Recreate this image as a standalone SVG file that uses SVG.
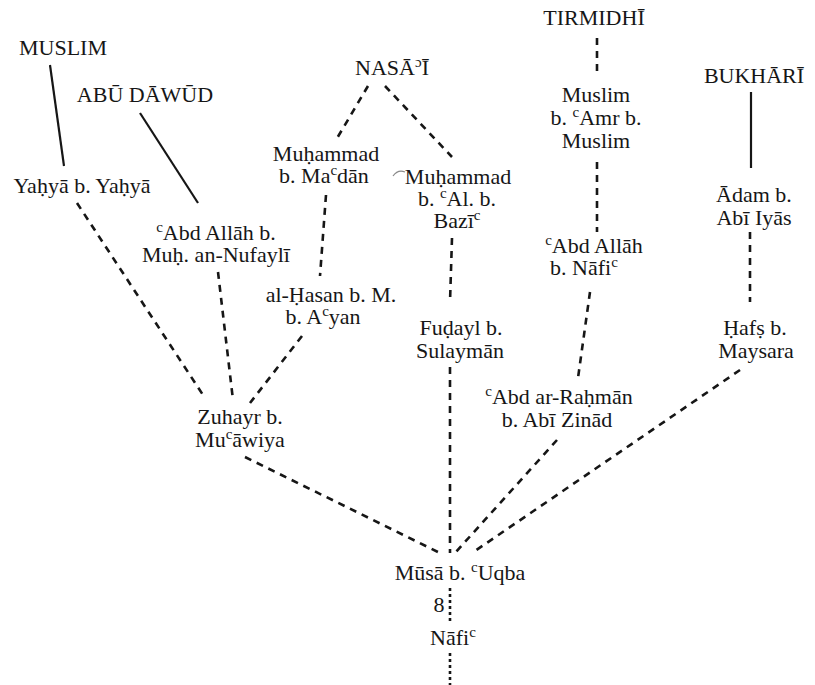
<svg xmlns="http://www.w3.org/2000/svg" width="815" height="685" viewBox="0 0 815 685">
  <style>
    .t { font-family: "Liberation Serif", "DejaVu Serif", serif; font-size: 22px; fill: #161616; text-anchor: middle; }
    .sup { font-size: 15px; }
    .solid { stroke: #161616; stroke-width: 2.2; fill: none; }
    .dash { stroke: #161616; stroke-width: 2.6; fill: none; stroke-dasharray: 7 6; }
    .dot { stroke: #161616; stroke-width: 2.6; fill: none; stroke-dasharray: 3 3; }
  </style>
  <rect width="815" height="685" fill="#ffffff"/>

  <!-- connectors -->
  <g id="connectors">
    <line class="solid" x1="50" y1="65" x2="64" y2="166"/>
    <line class="solid" x1="140" y1="113" x2="198" y2="203"/>
    <line class="solid" x1="751" y1="92" x2="751" y2="168"/>

    <line class="dash" x1="368" y1="86" x2="336" y2="140"/>
    <line class="dash" x1="385" y1="86" x2="452" y2="157"/>
    <line class="dash" x1="326" y1="195" x2="320" y2="276"/>
    <line class="dash" x1="452" y1="238" x2="450" y2="302"/>
    <line class="dash" x1="450" y1="367" x2="450" y2="553"/>
    <line class="dash" x1="597" y1="38" x2="597" y2="74"/>
    <line class="dash" x1="597" y1="162" x2="597" y2="232"/>
    <line class="dash" x1="590" y1="292" x2="578" y2="378"/>
    <line class="dash" x1="557" y1="440" x2="455" y2="553"/>
    <line class="dash" x1="750" y1="232" x2="750" y2="302"/>
    <line class="dash" x1="740" y1="370" x2="472" y2="553"/>
    <line class="dash" x1="77" y1="203" x2="205" y2="398"/>
    <line class="dash" x1="218" y1="272" x2="233" y2="400"/>
    <line class="dash" x1="302" y1="336" x2="250" y2="403"/>
    <line class="dash" x1="245" y1="457" x2="440" y2="553"/>

    <line class="dot" x1="450" y1="588" x2="450" y2="621"/>
    <line class="dot" x1="450" y1="653" x2="450" y2="685"/>
  </g>

  <!-- small stray pen stroke beside Muhammad b. Al. -->
  <path d="M393,176 q5,-7 12,-4" stroke="#888" stroke-width="1.2" fill="none"/>

  <!-- collectors -->
  <g id="muslim"><text class="t" x="63" y="55">MUSLIM</text></g>
  <g id="abu-dawud"><text class="t" x="145" y="102">ABŪ DĀWŪD</text></g>
  <g id="nasai"><text class="t" x="392" y="75">NASĀ<tspan class="sup" dy="-8">ɔ</tspan><tspan dy="8">Ī</tspan></text></g>
  <g id="tirmidhi"><text class="t" x="594" y="25">TIRMIDHĪ</text></g>
  <g id="bukhari"><text class="t" x="754" y="83">BUKHĀRĪ</text></g>

  <!-- transmitters -->
  <g id="yahya"><text class="t" x="82" y="193">Yaḥyā b. Yaḥyā</text></g>
  <g id="nufayli"><text class="t" x="216" y="240"><tspan class="sup" dy="-8">c</tspan><tspan dy="8">Abd Allāh b.</tspan><tspan x="216" y="262">Muḥ. an-Nufaylī</tspan></text></g>
  <g id="madan"><text class="t" x="326" y="161">Muḥammad<tspan x="324" y="183">b. Ma<tspan class="sup" dy="-8">c</tspan><tspan dy="8">dān</tspan></tspan></text></g>
  <g id="bazi"><text class="t" x="458" y="184">Muḥammad<tspan x="457" y="206">b. <tspan class="sup" dy="-8">c</tspan><tspan dy="8">Al. b.</tspan></tspan><tspan x="457" y="228">Bazī<tspan class="sup" dy="-8">c</tspan></tspan></text></g>
  <g id="muslim-amr"><text class="t" x="596" y="102">Muslim<tspan x="596" y="125">b. <tspan class="sup" dy="-8">c</tspan><tspan dy="8">Amr b.</tspan></tspan><tspan x="596" y="148">Muslim</tspan></text></g>
  <g id="adam"><text class="t" x="754" y="202">Ādam b.<tspan x="754" y="225">Abī Iyās</tspan></text></g>
  <g id="abdallah-nafi"><text class="t" x="594" y="253"><tspan class="sup" dy="-8">c</tspan><tspan dy="8">Abd Allāh</tspan><tspan x="584" y="275">b. Nāfi<tspan class="sup" dy="-8">c</tspan></tspan></text></g>
  <g id="hasan"><text class="t" x="331" y="302">al-Ḥasan b. M.<tspan x="323" y="324">b. A<tspan class="sup" dy="-8">c</tspan><tspan dy="8">yan</tspan></tspan></text></g>
  <g id="fudayl"><text class="t" x="461" y="335">Fuḍayl b.<tspan x="460" y="358">Sulaymān</tspan></text></g>
  <g id="hafs"><text class="t" x="755" y="335">Ḥafṣ b.<tspan x="756" y="358">Maysara</tspan></text></g>
  <g id="abd-rahman"><text class="t" x="559" y="404"><tspan class="sup" dy="-8">c</tspan><tspan dy="8">Abd ar-Raḥmān</tspan><tspan x="557" y="427">b. Abī Zinād</tspan></text></g>
  <g id="zuhayr"><text class="t" x="240" y="424">Zuhayr b.<tspan x="240" y="447">Mu<tspan class="sup" dy="-8">c</tspan><tspan dy="8">āwiya</tspan></tspan></text></g>
  <g id="musa"><text class="t" x="460" y="580">Mūsā b. <tspan class="sup" dy="-8">c</tspan><tspan dy="8">Uqba</tspan></text></g>
  <g id="count"><text class="t" x="439" y="612">8</text></g>
  <g id="nafi"><text class="t" x="453" y="645">Nāfi<tspan class="sup" dy="-8">c</tspan></text></g>
</svg>
